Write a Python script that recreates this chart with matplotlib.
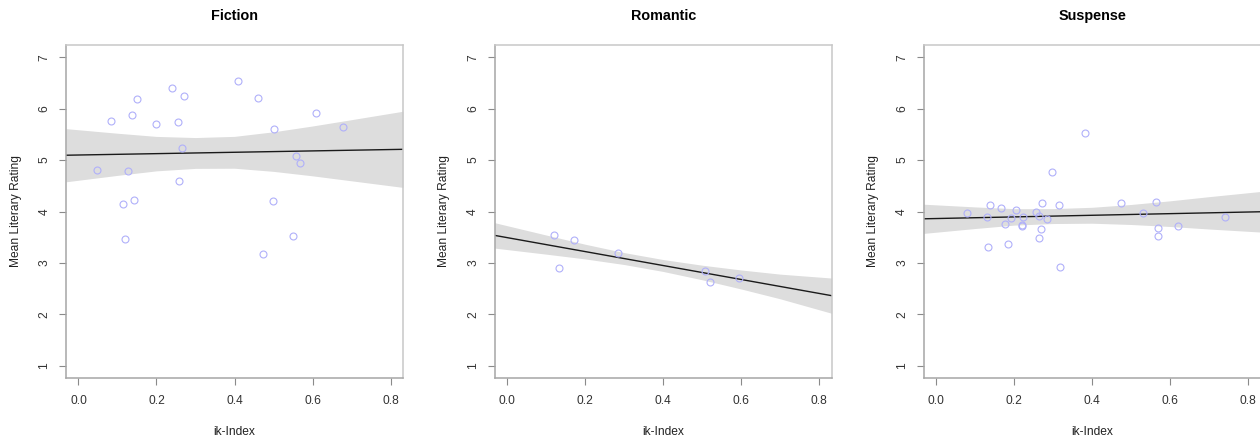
import matplotlib
matplotlib.use("Agg")
import matplotlib.pyplot as plt
import numpy as np

plt.rcParams['font.family'] = ['Liberation Sans', 'DejaVu Sans']

# ---- data ----
titles = ["Fiction", "Romantic", "Suspense"]

fiction_x = [0.047, 0.083, 0.136, 0.150, 0.126, 0.115, 0.142, 0.119, 0.198, 0.239,
             0.271, 0.255, 0.265, 0.258, 0.409, 0.460, 0.500, 0.498, 0.472, 0.550,
             0.557, 0.568, 0.608, 0.678]
fiction_y = [4.81, 5.76, 5.875, 6.19, 4.79, 4.15, 4.23, 3.46, 5.71, 6.41,
             6.25, 5.75, 5.23, 4.59, 6.54, 6.20, 5.61, 4.20, 3.18, 3.53,
             5.08, 4.95, 5.91, 5.65]

romantic_x = [0.121, 0.133, 0.171, 0.285, 0.507, 0.520, 0.595]
romantic_y = [3.535, 2.904, 3.45, 3.20, 2.833, 2.625, 2.70]

suspense_x = [0.0785, 0.131, 0.133, 0.138, 0.166, 0.176, 0.184, 0.191, 0.205, 0.222,
              0.220, 0.221, 0.255, 0.264, 0.263, 0.270, 0.271, 0.285, 0.297, 0.315,
              0.317, 0.382, 0.473, 0.531, 0.563, 0.569, 0.569, 0.620, 0.740]
suspense_y = [3.977, 3.886, 3.314, 4.120, 4.075, 3.763, 3.373, 3.873, 4.036, 3.893,
              3.743, 3.724, 3.997, 3.906, 3.490, 3.652, 4.166, 3.860, 4.764, 4.120,
              2.918, 5.518, 4.166, 3.971, 4.179, 3.672, 3.529, 3.711, 3.893]

# fitted line (value at left and right ends of x-range)
fit_x = [-0.032, 0.832]
fiction_fit = [5.095, 5.210]
romantic_fit = [3.535, 2.362]
suspense_fit = [3.858, 3.995]

# confidence band edges
band_x = [-0.032, 0.1, 0.2, 0.3, 0.4, 0.5, 0.6, 0.7, 0.832]
fiction_lo = [4.578, 4.703, 4.791, 4.839, 4.842, 4.781, 4.694, 4.597, 4.469]
fiction_hi = [5.612, 5.523, 5.461, 5.439, 5.462, 5.551, 5.664, 5.787, 5.951]
romantic_lo = [3.288, 3.170, 3.077, 2.968, 2.833, 2.671, 2.492, 2.301, 2.019]
romantic_hi = [3.782, 3.542, 3.363, 3.200, 3.065, 2.955, 2.862, 2.781, 2.705]
suspense_lo = [3.574, 3.669, 3.735, 3.766, 3.772, 3.747, 3.708, 3.659, 3.600]
suspense_hi = [4.142, 4.089, 4.055, 4.056, 4.082, 4.137, 4.208, 4.289, 4.390]

x_ticks = [0.0, 0.2, 0.4, 0.6, 0.8]
x_ticklabels = ["0.0", "0.2", "0.4", "0.6", "0.8"]
y_ticks = [1, 2, 3, 4, 5, 6, 7]
y_ticklabels = ["1", "2", "3", "4", "5", "6", "7"]

panels = [
    (fiction_x, fiction_y, fiction_fit, fiction_lo, fiction_hi),
    (romantic_x, romantic_y, romantic_fit, romantic_lo, romantic_hi),
    (suspense_x, suspense_y, suspense_fit, suspense_lo, suspense_hi),
]

# ---- figure ----
W, H = 1260, 441
fig = plt.figure(figsize=(W / 100, H / 100), dpi=100)

lefts_px = [66, 494.7, 923.7]
width_px = 337
top_px, bottom_px = 45, 378

label_fs = 8.64
title_fs = 10.4

for i, (px, py, fit, lo, hi) in enumerate(panels):
    ax = fig.add_axes([lefts_px[i] / W, (H - bottom_px) / H,
                       width_px / W, (bottom_px - top_px) / H])
    ax.fill_between(band_x, lo, hi, color='#dddddd', linewidth=0, zorder=1)
    ax.plot(fit_x, fit, color='#1a1a1a', linewidth=1.0, zorder=2)
    ax.plot(px, py, linestyle='none', marker='o', markersize=5.0,
            markerfacecolor='none', markeredgecolor='#b0b0fa',
            markeredgewidth=0.8, zorder=3)
    ax.set_xlim(-0.032, 0.832)
    ax.set_ylim(0.76, 7.24)
    ax.set_xticks(x_ticks)
    ax.set_xticklabels(x_ticklabels)
    ax.set_yticks(y_ticks)
    ax.set_yticklabels(y_ticklabels, rotation=90, va='center')
    ax.tick_params(axis='both', direction='out', length=5.2, width=0.8,
                   color='#8a8a8a', labelcolor='#333333', labelsize=label_fs)
    ax.tick_params(axis='x', pad=7)
    ax.tick_params(axis='y', pad=6)
    for s in ['top', 'right']:
        ax.spines[s].set_color('#c8c8c8')
        ax.spines[s].set_linewidth(1.1)
    for s in ['left', 'bottom']:
        ax.spines[s].set_color('#a6a6a6')
        ax.spines[s].set_linewidth(1.1)
    ax.set_xlabel("ik-Index", fontsize=label_fs, color='#222222', labelpad=14)
    ax.set_ylabel("Mean Literary Rating", fontsize=label_fs, color='#222222', labelpad=12)
    cx = (lefts_px[i] + width_px / 2) / W
    fig.text(cx, 1 - 16 / H, titles[i], ha='center', va='center',
             fontsize=title_fs, fontweight='bold')

fig.savefig("out.png", dpi=100)
